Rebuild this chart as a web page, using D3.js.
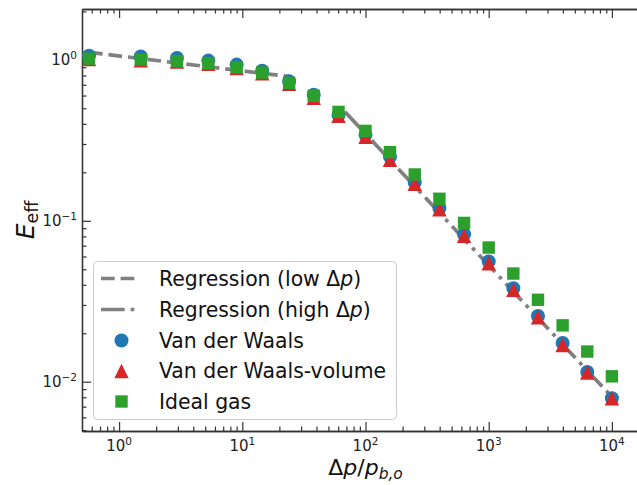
<!DOCTYPE html>
<html>
<head>
<meta charset="utf-8">
<script src="https://cdn.jsdelivr.net/npm/d3@7"></script>
<style>
  body { margin: 0; background: #fff; }
  svg { font-family: "DejaVu Sans", sans-serif; }
</style>
</head>
<body>
<div id="chart"></div>
<script>
// pressure ratio (x) for each measured point
var pressureRatio = [0.57, 1.5, 2.95, 5.3, 9.0, 14.5, 24, 38, 60.4, 100, 158, 251, 398, 631, 1000, 1585, 2512, 3981, 6310, 10000];

var vanDerWaals = [1.06, 1.05, 1.026, 0.989, 0.934, 0.855, 0.735, 0.608, 0.455, 0.342, 0.25, 0.173, 0.12, 0.0824, 0.0558, 0.0381, 0.0256, 0.0174, 0.0115, 0.0079];
var vanDerWaalsVolume = [1.01, 0.995, 0.975, 0.946, 0.89, 0.825, 0.71, 0.58, 0.449, 0.333, 0.239, 0.170, 0.118, 0.0806, 0.0545, 0.0372, 0.0251, 0.0169, 0.0114, 0.0079];
var idealGas = [1.017, 1.003, 0.983, 0.954, 0.898, 0.833, 0.72, 0.598, 0.475, 0.362, 0.267, 0.194, 0.137, 0.097, 0.0682, 0.047, 0.0323, 0.0224, 0.0154, 0.0108];

// regression lines (straight on log-log, so just the end points)
var regLowX = [0.57, 24];
var regLowY = [1.114, 0.787];
var regHighX = [68, 10000];
var regHighY = [0.476, 0.00805];

var xLimits = [0.5, 20000];
var yLimits = [0.00494, 2.07];
var xMajor = [1, 10, 100, 1000, 10000];
var xMajorExp = ["0", "1", "2", "3", "4"];
var yMajor = [1, 0.1, 0.01];
var yMajorExp = ["0", "\u22121", "\u22122"];

var legendLabels = ["Regression (low \u0394p)", "Regression (high \u0394p)", "Van der Waals", "Van der Waals-volume", "Ideal gas"];

var margin = {top: 9, left: 82, right: 649, bottom: 431};
var width = 637, height = 485;
var lineColor = "#808080";
var axisColor = "#333333";

var svg = d3.select("#chart").append("svg")
    .attr("width", width)
    .attr("height", height);

var x = d3.scaleLog().domain(xLimits).range([margin.left, margin.right]);
var y = d3.scaleLog().domain(yLimits).range([margin.bottom, margin.top]);

function minorTicks(lim) {
    var out = [];
    for (var e = -4; e <= 5; e++) {
        for (var m = 2; m < 10; m++) {
            var v = m * Math.pow(10, e);
            if (v > lim[0] && v < lim[1]) out.push(v);
        }
    }
    return out;
}

function styleAxis(g) {
    g.selectAll("path.domain").attr("stroke", axisColor).attr("stroke-width", 1.3);
    g.selectAll(".tick line").attr("stroke", axisColor).attr("stroke-width", 1.2);
}

// minor ticks
svg.append("g").attr("transform", "translate(0," + margin.bottom + ")")
    .call(d3.axisBottom(x).tickValues(minorTicks(xLimits)).tickSize(-4.5).tickSizeOuter(0).tickFormat(""))
    .call(styleAxis);
svg.append("g").attr("transform", "translate(0," + margin.top + ")")
    .call(d3.axisTop(x).tickValues(minorTicks(xLimits)).tickSize(-4.5).tickSizeOuter(0).tickFormat(""))
    .call(styleAxis);
svg.append("g").attr("transform", "translate(" + margin.left + ",0)")
    .call(d3.axisLeft(y).tickValues(minorTicks(yLimits)).tickSize(-4.5).tickSizeOuter(0).tickFormat(""))
    .call(styleAxis);

// major ticks
svg.append("g").attr("transform", "translate(0," + margin.bottom + ")")
    .call(d3.axisBottom(x).tickValues(xMajor).tickSize(-9).tickSizeOuter(0).tickFormat(""))
    .call(styleAxis);
svg.append("g").attr("transform", "translate(0," + margin.top + ")")
    .call(d3.axisTop(x).tickValues(xMajor).tickSize(-9).tickSizeOuter(0).tickFormat(""))
    .call(styleAxis);
svg.append("g").attr("transform", "translate(" + margin.left + ",0)")
    .call(d3.axisLeft(y).tickValues(yMajor).tickSize(-9).tickSizeOuter(0).tickFormat(""))
    .call(styleAxis);

// tick labels as 10^k
var xLab = svg.append("g").selectAll("text")
    .data(xMajor)
    .enter().append("text")
    .attr("x", function(d) { return x(d); })
    .attr("y", margin.bottom + 20)
    .attr("text-anchor", "middle")
    .attr("font-size", 15)
    .attr("fill", "#222");
xLab.append("tspan").text("10");
xLab.append("tspan").attr("dy", -6).attr("font-size", 10.5).text(function(d, i) { return xMajorExp[i]; });

var yLab = svg.append("g").selectAll("text")
    .data(yMajor)
    .enter().append("text")
    .attr("x", margin.left - 5)
    .attr("y", function(d) { return y(d) + 5.5; })
    .attr("text-anchor", "end")
    .attr("font-size", 15)
    .attr("fill", "#222");
yLab.append("tspan").text("10");
yLab.append("tspan").attr("dy", -6).attr("font-size", 10.5).text(function(d, i) { return yMajorExp[i]; });

// axis titles
var xTitle = svg.append("text")
    .attr("x", (margin.left + margin.right) / 2)
    .attr("y", 475)
    .attr("text-anchor", "middle")
    .attr("font-size", 22)
    .attr("fill", "#111");
xTitle.append("tspan").text("\u0394");
xTitle.append("tspan").attr("font-style", "italic").text("p");
xTitle.append("tspan").text("/");
xTitle.append("tspan").attr("font-style", "italic").text("p");
xTitle.append("tspan").attr("font-style", "italic").attr("font-size", 15.4).attr("dy", 4).text("b,o");

var yTitle = svg.append("text")
    .attr("transform", "translate(34," + ((margin.top + margin.bottom) / 2) + ") rotate(-90)")
    .attr("text-anchor", "middle")
    .attr("font-size", 25)
    .attr("fill", "#111");
yTitle.append("tspan").attr("font-style", "italic").text("E");
yTitle.append("tspan").attr("font-size", 17.5).attr("dy", 4).text("eff");

// regression lines
var line = d3.line()
    .x(function(d) { return x(d[0]); })
    .y(function(d) { return y(d[1]); });

svg.append("path")
    .datum(d3.zip(regLowX, regLowY))
    .attr("d", line)
    .attr("fill", "none")
    .attr("stroke", lineColor)
    .attr("stroke-width", 3.7)
    .attr("stroke-dasharray", "13.7,5.9");

svg.append("path")
    .datum(d3.zip(regHighX, regHighY))
    .attr("d", line)
    .attr("fill", "none")
    .attr("stroke", lineColor)
    .attr("stroke-width", 3.7)
    .attr("stroke-dasharray", "23.7,5.9,3.7,5.9");

// markers
var circleSym = d3.symbol().type(d3.symbolCircle).size(Math.PI * 7 * 7);
var triPath = "M0,-7.2L7.2,7.2L-7.2,7.2Z";
var sqPath = "M-6.2,-6.2H6.2V6.2H-6.2Z";

svg.append("g").selectAll("path")
    .data(d3.zip(pressureRatio, vanDerWaals))
    .enter().append("path")
    .attr("d", circleSym)
    .attr("transform", function(d) { return "translate(" + x(d[0]) + "," + y(d[1]) + ")"; })
    .attr("fill", "#1f77b4");

svg.append("g").selectAll("path")
    .data(d3.zip(pressureRatio, vanDerWaalsVolume))
    .enter().append("path")
    .attr("d", triPath)
    .attr("transform", function(d) { return "translate(" + x(d[0]) + "," + y(d[1]) + ")"; })
    .attr("fill", "#d62728");

svg.append("g").selectAll("path")
    .data(d3.zip(pressureRatio, idealGas))
    .enter().append("path")
    .attr("d", sqPath)
    .attr("transform", function(d) { return "translate(" + x(d[0]) + "," + y(d[1]) + ")"; })
    .attr("fill", "#2ca02c");

// legend
var legend = svg.append("g");
legend.append("rect")
    .attr("x", 93.5).attr("y", 261.5)
    .attr("width", 303).attr("height", 158)
    .attr("rx", 4)
    .attr("fill", "white").attr("fill-opacity", 0.8)
    .attr("stroke", "#cccccc").attr("stroke-width", 1);

var rowY = [278.5, 309.5, 340.5, 371, 401.5];
var row = legend.selectAll("g.row")
    .data(legendLabels)
    .enter().append("g")
    .attr("class", "row")
    .attr("transform", function(d, i) { return "translate(0," + rowY[i] + ")"; });

row.each(function(d, i) {
    var g = d3.select(this);
    if (i == 0 || i == 1) {
        g.append("line")
            .attr("x1", 101).attr("x2", 137.5)
            .attr("y1", 0).attr("y2", 0)
            .attr("stroke", lineColor)
            .attr("stroke-width", 3.7)
            .attr("stroke-dasharray", i == 0 ? "13.7,5.9" : "23.7,5.9,3.7,5.9");
    } else if (i == 2) {
        g.append("path").attr("d", circleSym).attr("transform", "translate(121.5,0)").attr("fill", "#1f77b4");
    } else if (i == 3) {
        g.append("path").attr("d", triPath).attr("transform", "translate(121.5,0)").attr("fill", "#d62728");
    } else {
        g.append("path").attr("d", sqPath).attr("transform", "translate(121.5,0)").attr("fill", "#2ca02c");
    }
});

var rowText = row.append("text")
    .attr("x", 159)
    .attr("y", 7)
    .attr("font-size", 20.4)
    .attr("fill", "#111");
rowText.each(function(d) {
    var t = d3.select(this);
    var k = d.indexOf("\u0394p");
    if (k >= 0) {
        t.append("tspan").text(d.slice(0, k + 1));
        t.append("tspan").attr("font-style", "italic").text("p");
        t.append("tspan").text(d.slice(k + 2));
    } else {
        t.text(d);
    }
});
</script>
</body>
</html>
